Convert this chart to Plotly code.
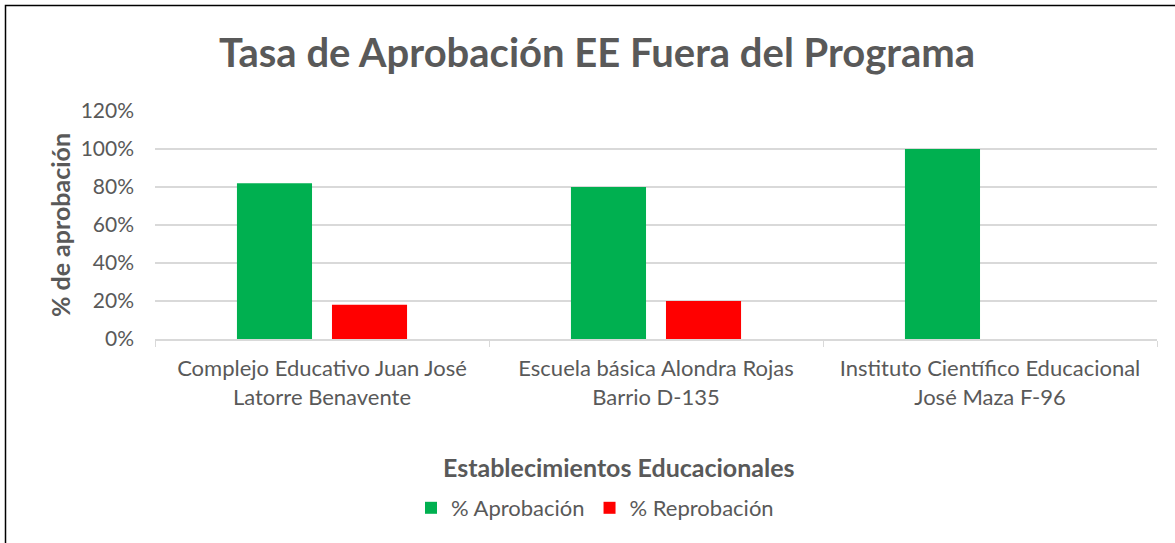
import plotly.graph_objects as go

categories = ["Complejo Educativo Juan José<br>Latorre Benavente",
              "Escuela básica Alondra Rojas<br>Barrio D-135",
              "Instituto Científico Educacional<br>José Maza F-96"]
aprobacion = [0.82, 0.80, 1.00]
reprobacion = [0.18, 0.20, 0.0]
y_ticks = [0, 0.2, 0.4, 0.6, 0.8, 1.0, 1.2]

FONT = "Lato"
GREY = "#595959"

fig = go.Figure()
fig.add_trace(go.Bar(x=categories, y=aprobacion, name="% Aprobación",
                     marker=dict(color="#00B050", line=dict(width=0))))
fig.add_trace(go.Bar(x=categories, y=reprobacion, name="% Reprobación",
                     marker=dict(color="#FF0000", line=dict(width=0))))

W, H = 1175, 543
L, T = 155, 111
R = W - 1157
B = H - 339
pw, ph = W - L - R, H - T - B

def px(x):
    return (x - L) / pw

def py(y):
    return 1 - (y - T) / ph

fig.update_layout(
    width=W, height=H,
    margin=dict(l=L, r=R, t=T, b=B),
    paper_bgcolor="white", plot_bgcolor="white",
    barmode="group", bargap=0.431, bargroupgap=0.21,
    font=dict(family=FONT, color=GREY, size=21),
    title=dict(text="<b>Tasa de Aprobación EE Fuera del Programa</b>",
               x=597 / W, xanchor="center", y=1 - 53 / H, yanchor="middle",
               font=dict(size=40, color=GREY, family=FONT)),
    xaxis=dict(showgrid=False, showline=True, linecolor="#d9d9d9", linewidth=1.5,
               ticks="outside", tickson="boundaries", ticklen=6, tickcolor="#d9d9d9",
               tickfont=dict(size=22, color=GREY), ticklabelstandoff=9),
    yaxis=dict(range=[0, 1.2], tickvals=y_ticks, tickformat=".0%",
               showgrid=True, gridcolor="#d9d9d9", gridwidth=1.5, zeroline=False,
               showline=False, ticks="", tickfont=dict(size=21, color=GREY),
               ticklabelstandoff=20,
               title=dict(text="<b>% de aprobación</b>",
                          font=dict(size=25, color=GREY), standoff=2)),
    legend=dict(orientation="h", x=px(595), xanchor="center",
                y=py(508), yanchor="middle",
                font=dict(size=22, color=GREY), itemwidth=30, traceorder="normal"),
    showlegend=True,
)

fig.add_annotation(text="<b>Establecimientos Educacionales</b>", xref="paper", yref="paper",
                   x=px(619), y=py(467), xanchor="center", yanchor="middle",
                   showarrow=False, font=dict(size=25, color=GREY, family=FONT))

fig.add_shape(type="rect", xref="paper", yref="paper",
              x0=px(5.5), x1=px(W + 60),
              y0=py(H + 60), y1=py(5.5),
              line=dict(color="black", width=1.5), fillcolor="rgba(0,0,0,0)",
              layer="above")

fig.write_html("out.html", config={"displayModeBar": False},
               post_script="document.body.style.margin='0';")
